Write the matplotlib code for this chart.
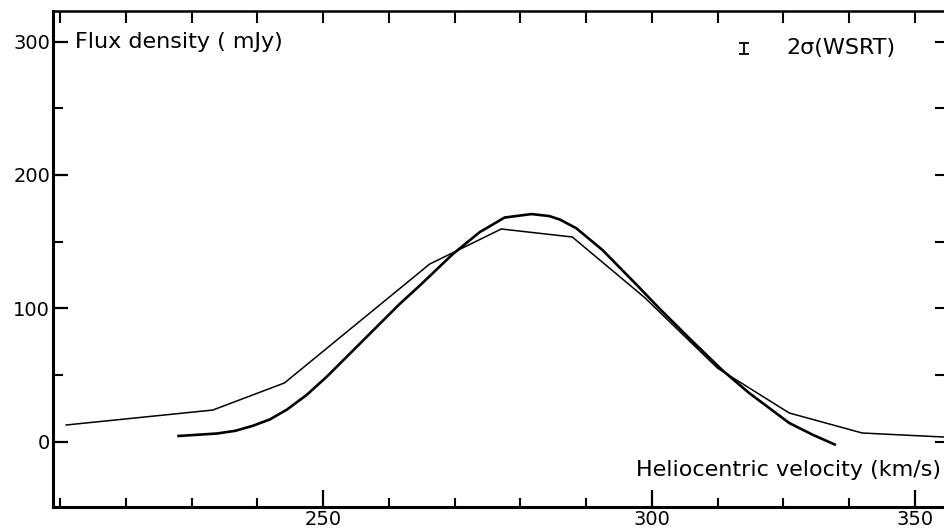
import matplotlib
matplotlib.use("Agg")
import matplotlib.pyplot as plt

# 観測プロファイル（細線、折れ線）
obs_v = [210.9, 233.2, 244.1, 266.2, 277.1, 287.9, 298.9, 310.0, 320.9, 332.0, 346.0]
obs_f = [12.4, 23.6, 43.9, 133.1, 159.4, 153.4, 108.0, 55.0, 21.4, 6.4, 3.0]

# モデルプロファイル（太線、なめらか）
mod_v = [227.8, 233.8, 236.6, 239.3, 241.9, 244.5, 247.5, 250.5, 256.6, 261.6,
         264.7, 269.7, 273.8, 277.6, 281.7, 284.4, 286.0, 288.5, 292.5, 297.6,
         301.1, 306.0, 310.7, 314.8, 320.9, 324.5, 328.0]
mod_f = [4.1, 6.0, 8.0, 11.8, 16.6, 24.0, 35.0, 48.4, 78.4, 103.0,
         117.0, 140.5, 157.0, 168.0, 170.6, 169.1, 166.5, 160.0, 143.6, 118.0,
         100.0, 76.0, 53.6, 36.4, 13.9, 5.0, -2.6]

# 2σ エラーバー
err_v = 314.0
err_f = 295.0
err_half = 4.0

xminor = list(range(210, 341, 10))
xmajor = [250, 300, 340]
xmajor_labels = ["250", "300", "350"]
ymajor = [0, 100, 200, 300]
yminor = [50, 150, 250]
yright = [0, 50, 100, 150, 200, 250, 300]

fig = plt.figure(figsize=(9.44, 5.31), dpi=100)
ax = fig.add_axes([53 / 944, 24 / 531, (947 - 53) / 944, 496 / 531])

ax.plot(obs_v, obs_f, color="black", lw=1.1, solid_joinstyle="miter")
ax.plot(mod_v, mod_f, color="black", lw=1.9, solid_capstyle="butt",
        solid_joinstyle="round")
ax.errorbar([err_v], [err_f], yerr=[err_half], fmt="none", ecolor="black",
            elinewidth=1.3, capsize=3.5, capthick=1.3)

ax.set_xlim(208.9, 344.9)
ax.set_ylim(-49.1, 322.9)

for s in ["left", "bottom"]:
    ax.spines[s].set_linewidth(2.2)
ax.spines["top"].set_linewidth(1.8)
ax.spines["right"].set_visible(False)

ax.set_xticks(xmajor, labels=xmajor_labels)
ax.set_xticks(xminor, minor=True)
ax.set_yticks(ymajor)
ax.set_yticks(yminor, minor=True)
ax.tick_params(axis="x", which="major", direction="in", length=12.5, width=1.6,
               labelsize=14, pad=2)
ax.tick_params(axis="x", which="minor", direction="in", length=6.5, width=1.5)
ax.tick_params(axis="y", which="major", direction="in", length=11, width=1.6,
               labelsize=14, pad=2)
ax.tick_params(axis="y", which="minor", direction="in", length=7, width=1.5)

top = ax.secondary_xaxis("top")
top.set_xticks(xminor)
top.tick_params(direction="in", length=8.5, width=1.5, labeltop=False)
top.spines["top"].set_visible(False)

right = ax.secondary_yaxis("right")
right.set_yticks(yright)
right.tick_params(direction="in", length=9, width=1.5, labelright=False)
right.spines["right"].set_visible(False)

ax.text(212.2, 300, "Flux density ( mJy)", fontsize=16, ha="left", va="center")
ax.text(320.5, 295, "2σ(WSRT)", fontsize=16, ha="left", va="center")
ax.text(344.0, -21.5, "Heliocentric velocity (km/s)", fontsize=16,
        ha="right", va="center")

fig.savefig("out.png", dpi=100)
